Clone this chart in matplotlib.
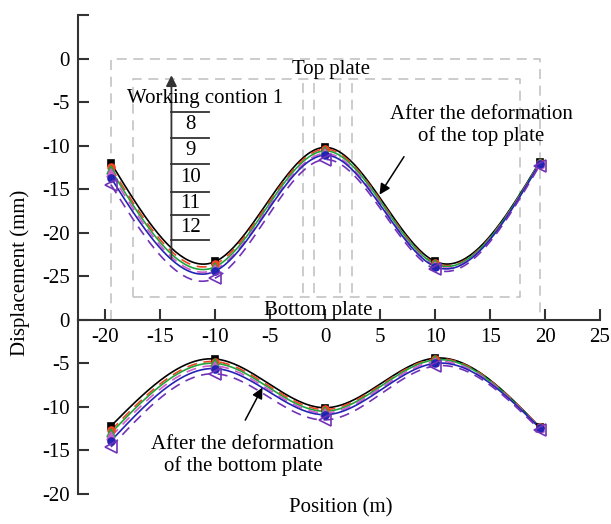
import numpy as np
import matplotlib
matplotlib.use("Agg")
import matplotlib.pyplot as plt

plt.rcParams['font.family'] = ['Liberation Serif', 'DejaVu Serif']
plt.rcParams['axes.unicode_minus'] = False

# measuring points along the span (m)
position = [-19.5, -10, 0, 10, 19.5]

# top plate displacement (mm) per working condition
top_wc1 = [-12.0, -23.3, -10.2, -23.3, -11.9]
top_wc8 = [-12.5, -23.6, -10.4, -23.5, -12.0]
top_wc9 = [-12.8, -23.9, -10.6, -23.6, -12.0]
top_wc10 = [-13.2, -24.2, -10.9, -23.8, -12.1]
top_wc11 = [-13.7, -24.4, -11.1, -23.9, -12.1]
top_wc12 = [-14.5, -25.2, -11.6, -24.2, -12.3]

# bottom plate displacement (mm) per working condition
bot_wc1 = [-12.2, -4.5, -10.1, -4.4, -12.3]
bot_wc8 = [-12.7, -4.8, -10.3, -4.5, -12.3]
bot_wc9 = [-13.0, -5.0, -10.5, -4.6, -12.4]
bot_wc10 = [-13.4, -5.3, -10.7, -4.8, -12.4]
bot_wc11 = [-13.9, -5.6, -10.9, -5.0, -12.4]
bot_wc12 = [-14.6, -6.2, -11.5, -5.3, -12.6]

legend_labels = ['8', '9', '10', '11', '12']
ytick_pos = [5, 0, -5, -10, -15, -20, -25, -30, -35, -40, -45, -50]
ytick_labels = ['', '0', '-5', '-10', '-15', '-20', '-25', '0', '-5', '-10', '-15', '-20']
xtick_pos = [-20, -15, -10, -5, 0, 5, 10, 15, 20, 25]

SHIFT = -30  # bottom plate is drawn below the top plate


def spline(x, y, n=200):
    # natural cubic spline through the measured points
    x = np.asarray(x, float)
    y = np.asarray(y, float)
    k = len(x)
    h = np.diff(x)
    A = np.zeros((k, k))
    b = np.zeros(k)
    A[0, 0] = A[-1, -1] = 1
    for i in range(1, k - 1):
        A[i, i - 1] = h[i - 1]
        A[i, i] = 2 * (h[i - 1] + h[i])
        A[i, i + 1] = h[i]
        b[i] = 6 * ((y[i + 1] - y[i]) / h[i] - (y[i] - y[i - 1]) / h[i - 1])
    m = np.linalg.solve(A, b)
    xs = np.linspace(x[0], x[-1], n)
    idx = np.clip(np.searchsorted(x, xs) - 1, 0, k - 2)
    x0, x1 = x[idx], x[idx + 1]
    hh = x1 - x0
    t0, t1 = x1 - xs, xs - x0
    ys = (m[idx] * t0**3 + m[idx + 1] * t1**3) / (6 * hh) \
        + (y[idx] / hh - m[idx] * hh / 6) * t0 + (y[idx + 1] / hh - m[idx + 1] * hh / 6) * t1
    return xs, ys


# colour, line style, marker, marker face, marker size
styles = [
    ('#000000', '-', 's', '#000000', 5),
    ('#f04422', (0, (6, 4)), 'o', '#f04422', 5),
    ('#1fa53a', '-', '^', '#1fa53a', 5.5),
    ('#d25ccc', (0, (6, 4)), '^', '#d25ccc', 5.5),
    ('#2424b4', '-', 'o', '#2424b4', 5),
    ('#7232b8', (0, (6, 4)), '<', 'none', 8),
]
top_series = [top_wc1, top_wc8, top_wc9, top_wc10, top_wc11, top_wc12]
bot_series = [bot_wc1, bot_wc8, bot_wc9, bot_wc10, bot_wc11, bot_wc12]

fig = plt.figure(figsize=(6.11, 5.24), dpi=100)
ax = fig.add_axes([0.1277, 0.0573, 0.8543, 0.9141])

# dashed gray outlines of the plates
gray = dict(color='#c4c4c4', lw=1.2, ls=(0, (6, 4)), zorder=1)
ax.plot([-19.5, -19.5, 19.5, 19.5], [-30, 0, 0, -30], **gray)
ax.plot([-17.5, -17.5, 17.7, 17.7, -17.5], [-27.4, -2.4, -2.4, -27.4, -27.4], **gray)
for xv in [-2.0, -1.0, 1.3, 2.4]:
    ax.plot([xv, xv], [-2.8, -27.4], **gray)

for (c, ls, mk, fc, ms), ys in zip(styles, top_series):
    xs, ss = spline(position, ys)
    ax.plot(xs, ss, color=c, ls=ls, lw=1.2, zorder=3)
    ax.plot(position, ys, ls='none', marker=mk, ms=ms, mfc=fc, mec=c, mew=1.2, zorder=4)

for (c, ls, mk, fc, ms), ys in zip(styles, bot_series):
    yb = np.asarray(ys) + SHIFT
    xs, ss = spline(position, yb)
    ax.plot(xs, ss, color=c, ls=ls, lw=1.2, zorder=3)
    ax.plot(position, yb, ls='none', marker=mk, ms=ms, mfc=fc, mec=c, mew=1.2, zorder=4)

# working condition key
ax.annotate('', xy=(-14.0, -1.6), xytext=(-14.0, -23.3),
            arrowprops=dict(arrowstyle='-|>', color='#333333', lw=1.3, mutation_scale=16))
rows = [-6.1, -9.1, -12.1, -15.3, -18.0, -20.8]
for yv in rows:
    ax.plot([-14.0, -10.6], [yv, yv], color='#333333', lw=1.3)
for lab, y0, y1 in zip(legend_labels, rows[:-1], rows[1:]):
    ax.text(-12.3, (y0 + y1) / 2, lab, ha='center', va='center', fontsize=15)
ax.text(-10.9, -4.6, 'Working contion 1', ha='center', va='center', fontsize=15)

ax.text(0.55, -1.3, 'Top plate', ha='center', va='center', fontsize=15)
ax.text(-0.6, -28.9, 'Bottom plate', ha='center', va='center', fontsize=15)

ax.text(14.2, -7.7, 'After the deformation\nof the top plate', ha='center', va='center',
        fontsize=15, linespacing=1.15)
ax.annotate('', xy=(4.8, -15.9), xytext=(7.3, -11.0),
            arrowprops=dict(arrowstyle='-|>', color='black', lw=1.1, mutation_scale=16))
ax.text(-7.5, -45.6, 'After the deformation\nof the bottom plate', ha='center', va='center',
        fontsize=15, linespacing=1.15)
ax.annotate('', xy=(-5.6, -37.5), xytext=(-7.4, -41.8),
            arrowprops=dict(arrowstyle='-|>', color='black', lw=1.1, mutation_scale=16))

ax.set_xlim(-22.5, 25)
ax.set_ylim(-50, 5)
ax.spines['top'].set_visible(False)
ax.spines['right'].set_visible(False)
ax.spines['bottom'].set_position(('data', SHIFT))
for s in ['left', 'bottom']:
    ax.spines[s].set_linewidth(1.5)
    ax.spines[s].set_color('#333333')
ax.set_xticks(xtick_pos)
ax.set_xticklabels([str(v) for v in xtick_pos])
ax.set_yticks(ytick_pos)
ax.set_yticklabels(ytick_labels)
ax.tick_params(direction='in', length=8, width=1.5, color='#333333', labelsize=15, pad=6)

fig.text(0.033, 0.48, 'Displacement (mm)', rotation=90, ha='center', va='center', fontsize=15)
fig.text(0.557, 0.03, 'Position (m)', ha='center', va='center', fontsize=15)

fig.savefig('out.png', dpi=100)
